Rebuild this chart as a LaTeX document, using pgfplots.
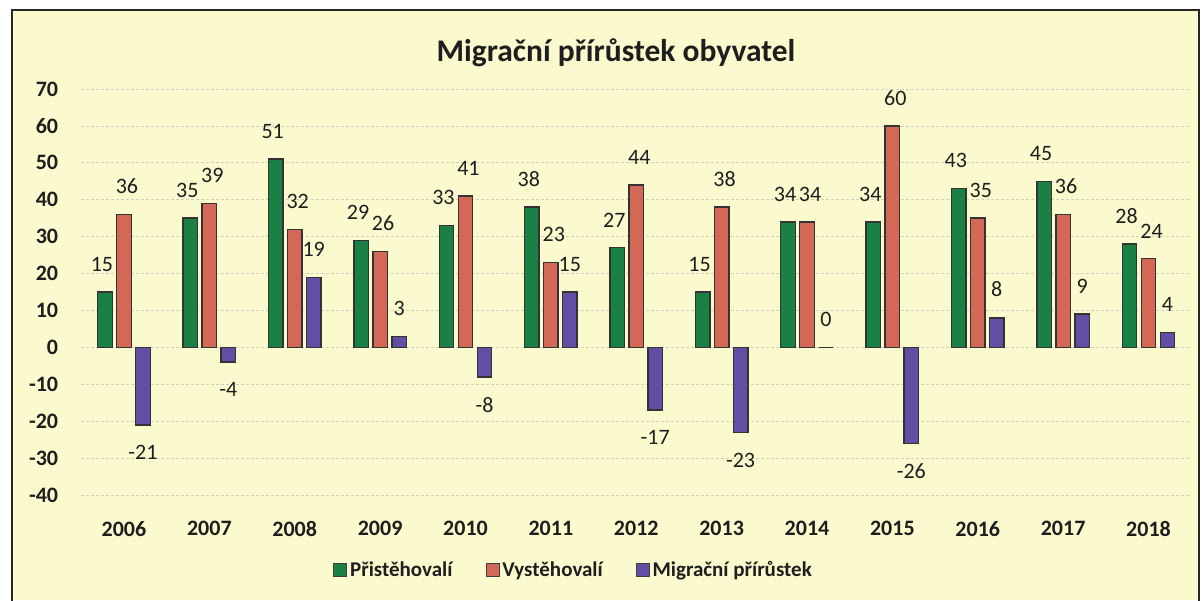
\documentclass[border=0pt]{standalone}
\usepackage{fontspec}
\setmainfont{Carlito}
\usepackage{pgfplots}
\usepackage{pgfplotstable}
\pgfplotsset{compat=1.18}
\usetikzlibrary{calc,backgrounds}

\definecolor{bgyellow}{RGB}{250,250,206}
\definecolor{gridc}{RGB}{208,208,190}
\definecolor{gC}{RGB}{26,128,68}
\definecolor{rC}{RGB}{212,104,86}
\definecolor{pC}{RGB}{98,78,165}
\definecolor{txt}{RGB}{30,30,30}

\pgfplotstableread{
x P V M
0 15 36 -21
1 35 39 -4
2 51 32 19
3 29 26 3
4 33 41 -8
5 38 23 15
6 27 44 -17
7 15 38 -23
8 34 34 0
9 34 60 -26
10 43 35 8
11 45 36 9
12 28 24 4
}\datatable

\begin{document}
\begin{tikzpicture}
\begin{axis}[
  name=ax, at={(0pt,0pt)}, anchor=south west,
  scale only axis, width=1109.9pt, height=406pt,
  xmin=-0.5, xmax=12.5, ymin=-40, ymax=70,
  xtick=data,
  xticklabels={2006,2007,2008,2009,2010,2011,2012,2013,2014,2015,2016,2017,2018},
  ytick={-40,-30,...,70},
  /pgf/number format/assume math mode=true,
  axis line style={draw=none},
  major tick length=0pt,
  ymajorgrids,
  grid style={densely dashed, color=gridc, line width=0.8pt},
  xticklabel style={font=\bfseries\fontsize{22}{24}\selectfont, text=txt, inner sep=0pt, yshift=-26pt},
  yticklabel style={font=\bfseries\fontsize{22}{24}\selectfont, text=txt, inner sep=0pt, xshift=-23pt},
  ybar=4.5pt, bar width=14.5pt,
  nodes near coords,
  nodes near coords style={font=\fontsize{22}{24}\selectfont, text=txt, inner ysep=20pt, inner xsep=0pt},
  legend style={at={(0.444,-0.185)}, anchor=center, draw=none, fill=none,
    legend columns=-1, font=\bfseries\fontsize{21}{23}\selectfont, text=txt,
    /tikz/every even column/.append style={column sep=30pt},
    nodes={inner xsep=3pt}},
  legend image code/.code={\draw[#1, draw=black!75, line width=0.8pt] (0pt,-6.5pt) rectangle (13pt,6.5pt);},
]
\addplot[draw=black!80, line width=1.4pt, fill=gC,
  nodes near coords style={xshift=-3pt}] table[x=x,y=P] {\datatable};
\addplot[draw=black!80, line width=1.4pt, fill=rC,
  nodes near coords style={xshift=3pt}] table[x=x,y=V] {\datatable};
\addplot[draw=black!80, line width=1.4pt, fill=pC] table[x=x,y=M] {\datatable};
\legend{Přistěhovalí, Vystěhovalí, Migrační přírůstek}
\end{axis}
\coordinate (O) at ($(ax.south west)+(-81.3pt,-105pt)$);
\pgfresetboundingbox
\begin{scope}[shift={(O)}, x=1pt, y=1pt]
\path[use as bounding box] (0,0) rectangle (1202,600);
\begin{pgfonlayer}{background}
\fill[white] (0,0) rectangle (1202,600);
\fill[bgyellow] (12,0) rectangle (1199,590);
\end{pgfonlayer}
\draw[line width=1.5pt, black!85] (12,-2) -- (12,590) -- (1199,590) -- (1199,-2);
\node[anchor=base, font=\bfseries\fontsize{31.5}{35}\selectfont, text=txt] at (616,538) {Migrační přírůstek obyvatel};
\end{scope}
\end{tikzpicture}
\end{document}
